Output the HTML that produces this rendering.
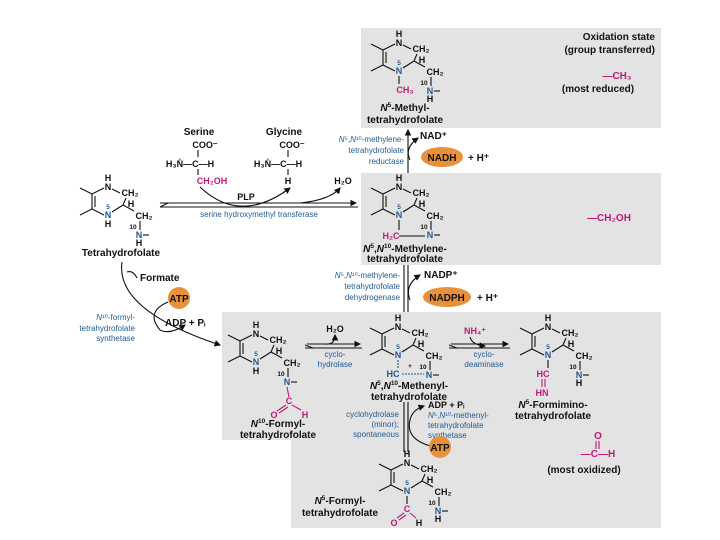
<!DOCTYPE html>
<html><head><meta charset="utf-8"><style>
body{margin:0;background:#fff}
svg{display:block}
text{font-family:"Liberation Sans",sans-serif;font-weight:bold;font-size:10px;fill:#111}
.s{font-size:9px}
.sm{font-size:6.5px}
.b{fill:#1f5a96;font-weight:normal;font-size:8px}
.bn{fill:#1f5a96}
.m{fill:#c2187a}
line,path{stroke:#111;stroke-width:1.1;fill:none}
.mc{stroke:#c2187a}
</style></head><body>
<svg width="720" height="540" viewBox="0 0 720 540" xmlns="http://www.w3.org/2000/svg">
<defs>
<marker id="ah" markerWidth="6" markerHeight="6" refX="5" refY="3" orient="auto"><path d="M0,0 L6,3 L0,6 z" style="fill:#111;stroke:none"/></marker>
<g id="ring">
 <text class="s" x="0" y="3" text-anchor="middle">H</text>
 <text class="s" x="0" y="12" text-anchor="middle">N</text>
 <line x1="4" y1="11" x2="12" y2="15"/>
 <text class="s" x="22" y="18" text-anchor="middle">CH₂</text>
 <line x1="18" y1="20" x2="15" y2="27"/>
 <text class="s" x="23" y="29" text-anchor="middle">H</text>
 <line x1="15" y1="27" x2="4" y2="34"/>
 <line x1="15" y1="27" x2="26" y2="33"/>
 <text class="sm bn" x="0" y="31" text-anchor="middle">5</text>
 <text class="s bn" x="0" y="40" text-anchor="middle">N</text>
 <text class="s" x="36" y="41" text-anchor="middle">CH₂</text>
 <line x1="32" y1="43" x2="32" y2="52"/>
 <text class="sm" x="25" y="51" text-anchor="middle">10</text>
 <text class="s bn" x="31" y="60" text-anchor="middle">N</text>
 <line x1="35" y1="57" x2="41" y2="57"/>
 <line x1="-4" y1="10" x2="-16" y2="16"/>
 <line x1="-16" y1="16" x2="-16" y2="31"/>
 <line x1="-13" y1="18" x2="-13" y2="29"/>
 <line x1="-16" y1="31" x2="-4" y2="37"/>
 <line x1="-16" y1="16" x2="-28" y2="10"/>
 <line x1="-16" y1="31" x2="-28" y2="37"/>
</g>
</defs>

<!-- gray panels -->
<rect x="361" y="28" width="300" height="100" fill="#e3e3e3"/>
<rect x="361" y="173" width="300" height="92" fill="#e3e3e3"/>
<path d="M222,312 H661 V528 H291 V440 H222 Z" style="fill:#e3e3e3;stroke:none"/>

<!-- right column -->
<text x="655" y="40" text-anchor="end">Oxidation state</text>
<text x="655" y="53" text-anchor="end">(group transferred)</text>
<text class="m" x="617" y="79" text-anchor="middle">—CH₃</text>
<text x="598" y="92" text-anchor="middle">(most reduced)</text>
<text class="m" x="609" y="221" text-anchor="middle">—CH₂OH</text>
<text class="m" x="598" y="439" text-anchor="middle">O</text>
<line class="mc" x1="596" y1="441" x2="596" y2="449"/><line class="mc" x1="599" y1="441" x2="599" y2="449"/>
<text class="m" x="598" y="457" text-anchor="middle">—C—H</text>
<text x="584" y="473" text-anchor="middle">(most oxidized)</text>

<!-- top: N5-methyl -->
<g transform="translate(399,34)"><use href="#ring"/>
 <line x1="0" y1="42" x2="0" y2="50"/>
 <text class="s m" x="6" y="59" text-anchor="middle">CH₃</text>
 <text class="s" x="31" y="68" text-anchor="middle">H</text>
</g>
<text x="405" y="111" text-anchor="middle"><tspan font-style="italic">N</tspan><tspan class="sm" dy="-4">5</tspan><tspan dy="4">-Methyl-</tspan></text>
<text x="405" y="123" text-anchor="middle">tetrahydrofolate</text>

<!-- tetrahydrofolate -->
<g transform="translate(108,178)"><use href="#ring"/>
 <text class="s" x="0" y="49" text-anchor="middle">H</text>
 <text class="s" x="31" y="68" text-anchor="middle">H</text>
</g>
<text x="121" y="256" text-anchor="middle">Tetrahydrofolate</text>

<!-- serine / glycine -->
<text x="199" y="135" text-anchor="middle">Serine</text>
<text x="284" y="135" text-anchor="middle">Glycine</text>
<text class="s" x="205" y="148" text-anchor="middle">COO⁻</text>
<line x1="198" y1="150" x2="198" y2="157"/>
<text class="s" x="190" y="167" text-anchor="middle">H₃N̊—C—H</text>
<line x1="198" y1="169" x2="198" y2="175"/>
<text class="s m" x="212" y="184" text-anchor="middle">CH₂OH</text>
<text class="s" x="292" y="148" text-anchor="middle">COO⁻</text>
<line x1="288" y1="150" x2="288" y2="157"/>
<text class="s" x="278" y="167" text-anchor="middle">H₃N̊—C—H</text>
<line x1="288" y1="169" x2="288" y2="175"/>
<text class="s" x="288" y="184" text-anchor="middle">H</text>
<text class="s" x="343" y="184" text-anchor="middle">H₂O</text>
<path d="M200,187 Q240,225 290,188" marker-end="url(#ah)"/>
<path d="M300,203 Q330,200 340,188" marker-end="url(#ah)"/>
<text class="s" x="246" y="200" text-anchor="middle">PLP</text>
<line x1="160" y1="203" x2="356" y2="203" marker-end="url(#ah)"/>
<line x1="160" y1="207" x2="358" y2="207" style="marker-start:none"/>
<path d="M168,203 l-8,4" />
<text class="b" x="259" y="217" text-anchor="middle">serine hydroxymethyl transferase</text>

<!-- middle: methylene -->
<g transform="translate(399,178)"><use href="#ring"/>
 <line x1="0" y1="42" x2="0" y2="52"/>
 <text class="s m" x="-8" y="61" text-anchor="middle">H₂C</text>
 <line x1="0" y1="58" x2="26" y2="58"/>
</g>
<text x="405" y="252" text-anchor="middle"><tspan font-style="italic">N</tspan><tspan class="sm" dy="-4">5</tspan><tspan dy="4">,</tspan><tspan font-style="italic">N</tspan><tspan class="sm" dy="-4">10</tspan><tspan dy="4">-Methylene-</tspan></text>
<text x="405" y="262" text-anchor="middle">tetrahydrofolate</text>

<!-- reductase arrow -->
<line x1="408" y1="173" x2="408" y2="130" marker-end="url(#ah)"/>
<path d="M410,160 Q404,148 418,138" marker-end="url(#ah)"/>
<text x="420" y="139">NAD⁺</text>
<ellipse cx="442" cy="157" rx="21" ry="10" fill="#e8913a"/>
<text x="442" y="161" text-anchor="middle">NADH</text>
<text x="468" y="161">+ H⁺</text>
<text class="b" x="404" y="142" text-anchor="end"><tspan font-style="italic">N</tspan>⁵,<tspan font-style="italic">N</tspan>¹⁰-methylene-</text>
<text class="b" x="404" y="153" text-anchor="end">tetrahydrofolate</text>
<text class="b" x="404" y="164" text-anchor="end">reductase</text>

<!-- dehydrogenase arrow -->
<line x1="404" y1="265" x2="404" y2="312"/>
<line x1="408" y1="265" x2="408" y2="312"/>
<path d="M410,300 Q404,285 420,275" marker-end="url(#ah)"/>
<text x="424" y="278">NADP⁺</text>
<ellipse cx="447" cy="297" rx="24" ry="10" fill="#e8913a"/>
<text x="447" y="301" text-anchor="middle">NADPH</text>
<text x="477" y="301">+ H⁺</text>
<text class="b" x="400" y="278" text-anchor="end"><tspan font-style="italic">N</tspan>⁵,<tspan font-style="italic">N</tspan>¹⁰-methylene-</text>
<text class="b" x="400" y="289" text-anchor="end">tetrahydrofolate</text>
<text class="b" x="400" y="300" text-anchor="end">dehydrogenase</text>

<!-- formyl synthetase -->
<path d="M122,262 Q115,310 220,345" marker-end="url(#ah)"/>
<path d="M127,272 Q133,270 137,278" />
<text x="140" y="281">Formate</text>
<circle cx="179" cy="298" r="11" fill="#e8913a"/>
<text x="179" y="302" text-anchor="middle">ATP</text>
<path d="M168,302 Q145,312 160,330 Q170,335 185,325" marker-end="url(#ah)"/>
<text x="165" y="326">ADP + Pᵢ</text>
<text class="b" x="135" y="320" text-anchor="end"><tspan font-style="italic">N</tspan>¹⁰-formyl-</text>
<text class="b" x="135" y="331" text-anchor="end">tetrahydrofolate</text>
<text class="b" x="135" y="341" text-anchor="end">synthetase</text>

<!-- N10-formyl -->
<g transform="translate(256,325)"><use href="#ring"/>
 <text class="s" x="0" y="49" text-anchor="middle">H</text>
 <line class="mc" x1="31" y1="62" x2="33" y2="72"/>
</g>
<text class="s m" x="289" y="404" text-anchor="middle">C</text>
<line class="mc" x1="286" y1="405" x2="277" y2="411"/><line class="mc" x1="288" y1="407" x2="279" y2="413"/>
<line class="mc" x1="292" y1="405" x2="301" y2="410"/>
<text class="s m" x="274" y="418" text-anchor="middle">O</text>
<text class="s m" x="305" y="418" text-anchor="middle">H</text>
<text x="278" y="427" text-anchor="middle"><tspan font-style="italic">N</tspan><tspan class="sm" dy="-4">10</tspan><tspan dy="4">-Formyl-</tspan></text>
<text x="278" y="438" text-anchor="middle">tetrahydrofolate</text>

<!-- cyclohydrolase arrow -->
<line x1="307" y1="344" x2="360" y2="344" marker-end="url(#ah)"/>
<line x1="305" y1="348" x2="362" y2="348"/>
<path d="M313,348 l-8,-3"/>
<text class="s" x="335" y="332" text-anchor="middle">H₂O</text>
<path d="M325,344 Q335,345 335,335" marker-end="url(#ah)"/>
<text class="b" x="335" y="357" text-anchor="middle">cyclo-</text>
<text class="b" x="335" y="367" text-anchor="middle">hydrolase</text>

<!-- methenyl -->
<g transform="translate(398,318)"><use href="#ring"/>
 <line class="mc" x1="0" y1="42" x2="0" y2="51" style="stroke:#1f5a96;stroke-dasharray:2,1"/>
 <text class="s bn" x="-5" y="59" text-anchor="middle">HC</text>
 <text class="sm" x="12" y="50" text-anchor="middle">+</text>
 <line x1="4" y1="56" x2="26" y2="56" style="stroke:#1f5a96;stroke-dasharray:2,1"/>
</g>
<text x="409" y="389" text-anchor="middle"><tspan font-style="italic">N</tspan><tspan class="sm" dy="-4">5</tspan><tspan dy="4">,</tspan><tspan font-style="italic">N</tspan><tspan class="sm" dy="-4">10</tspan><tspan dy="4">-Methenyl-</tspan></text>
<text x="409" y="400" text-anchor="middle">tetrahydrofolate</text>

<!-- cyclodeaminase -->
<line x1="451" y1="344" x2="508" y2="344" marker-end="url(#ah)"/>
<line x1="449" y1="348" x2="510" y2="348"/>
<path d="M457,348 l-8,-3"/>
<text class="s m" x="475" y="334" text-anchor="middle">NH₄⁺</text>
<path d="M470,337 Q472,345 485,346" marker-end="url(#ah)"/>
<text class="b" x="484" y="357" text-anchor="middle">cyclo-</text>
<text class="b" x="484" y="367" text-anchor="middle">deaminase</text>

<!-- formimino -->
<g transform="translate(548,318)"><use href="#ring"/>
 <line x1="0" y1="42" x2="0" y2="50"/>
 <text class="s m" x="-5" y="59" text-anchor="middle">HC</text>
 <line class="mc" x1="-6" y1="61" x2="-6" y2="69"/><line class="mc" x1="-3" y1="61" x2="-3" y2="69"/>
 <text class="s m" x="-6" y="78" text-anchor="middle">HN</text>
 <text class="s" x="31" y="68" text-anchor="middle">H</text>
</g>
<text x="553" y="408" text-anchor="middle"><tspan font-style="italic">N</tspan><tspan class="sm" dy="-4">5</tspan><tspan dy="4">-Formimino-</tspan></text>
<text x="553" y="419" text-anchor="middle">tetrahydrofolate</text>

<!-- bottom vertical arrow -->
<line x1="404" y1="402" x2="404" y2="452"/>
<line x1="408" y1="402" x2="408" y2="452"/>
<path d="M434,447 Q405,440 410,420 Q412,410 424,406" marker-end="url(#ah)"/>
<text class="s" x="428" y="408">ADP + Pᵢ</text>
<text class="b" x="428" y="418"><tspan font-style="italic">N</tspan>⁵,<tspan font-style="italic">N</tspan>¹⁰-methenyl-</text>
<text class="b" x="428" y="428">tetrahydrofolate</text>
<text class="b" x="428" y="438">synthetase</text>
<circle cx="440" cy="447" r="11" fill="#e8913a"/>
<text x="440" y="451" text-anchor="middle">ATP</text>
<text class="b" x="399" y="417" text-anchor="end">cyclohydrolase</text>
<text class="b" x="399" y="427" text-anchor="end">(minor);</text>
<text class="b" x="399" y="437" text-anchor="end">spontaneous</text>

<!-- N5-formyl -->
<g transform="translate(407,454)"><use href="#ring"/>
 <line x1="0" y1="42" x2="0" y2="50"/>
 <text class="s" x="31" y="68" text-anchor="middle">H</text>
</g>
<text class="s m" x="407" y="512" text-anchor="middle">C</text>
<line class="mc" x1="404" y1="513" x2="397" y2="518"/><line class="mc" x1="406" y1="515" x2="399" y2="520"/>
<line class="mc" x1="410" y1="513" x2="416" y2="518"/>
<text class="s m" x="394" y="526" text-anchor="middle">O</text>
<text class="s" x="419" y="526" text-anchor="middle">H</text>
<text x="340" y="504" text-anchor="middle"><tspan font-style="italic">N</tspan><tspan class="sm" dy="-4">5</tspan><tspan dy="4">-Formyl-</tspan></text>
<text x="340" y="516" text-anchor="middle">tetrahydrofolate</text>
</svg>
</body></html>
